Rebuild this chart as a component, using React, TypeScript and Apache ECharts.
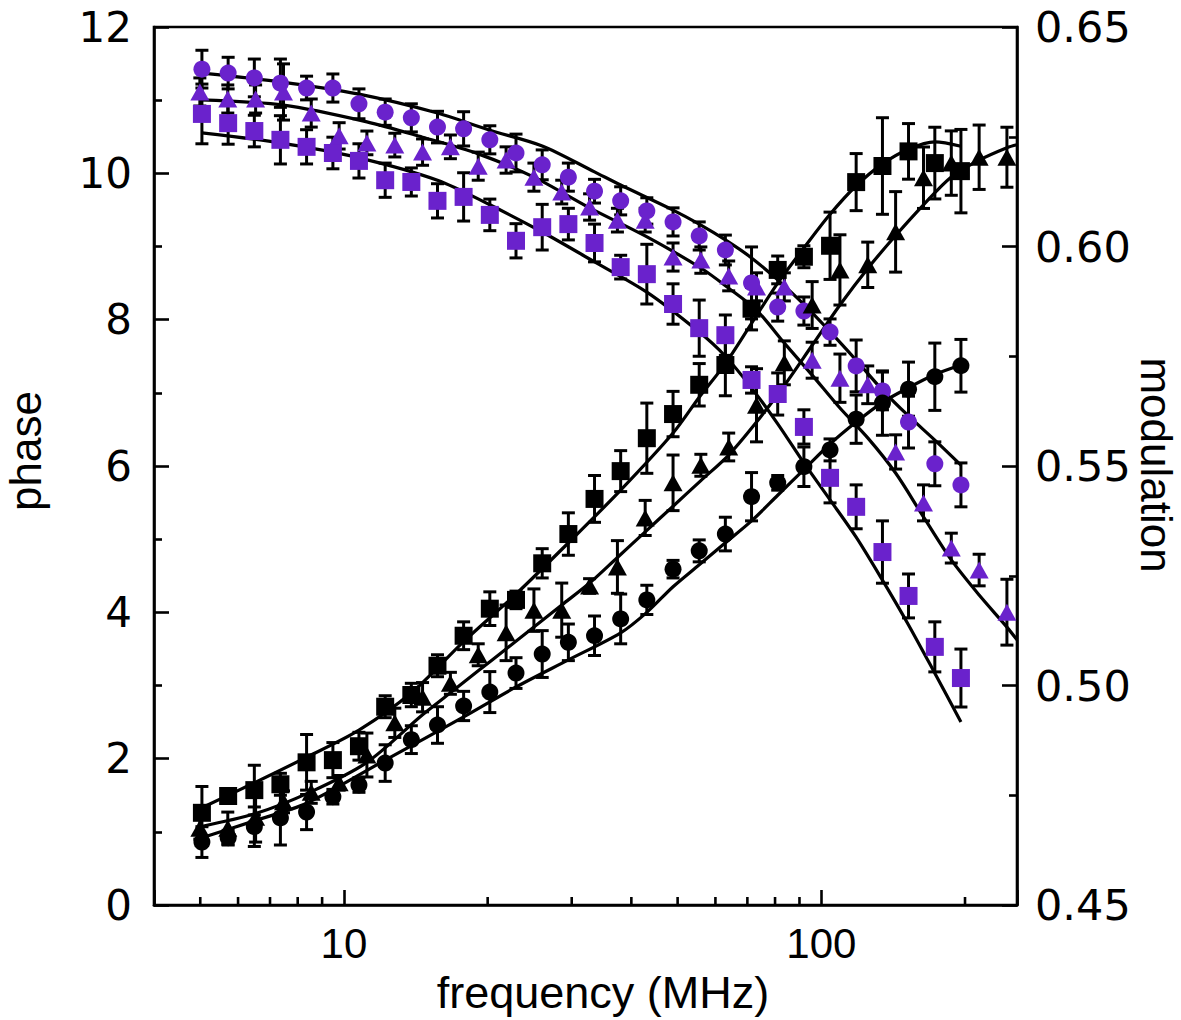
import React, { useEffect, useRef } from "react";
import * as echarts from "echarts";

// frequencies (MHz) of the square / circle data sets
const freqA = [5.04, 5.72, 6.49, 7.36, 8.35, 9.48, 10.75, 12.2, 13.84, 15.7, 17.81, 20.21, 22.93, 26.02, 29.52, 33.49, 37.99, 43.1, 48.91, 55.49, 62.95, 71.42, 81.03, 91.94, 104.3, 118.3, 134.3, 152.3, 172.9, 196.1];
// frequencies (MHz) of the triangle data sets
const freqB = [4.99, 5.71, 6.53, 7.47, 8.54, 9.77, 11.17, 12.78, 14.61, 16.71, 19.11, 21.86, 25.0, 28.59, 32.7, 37.4, 42.76, 48.91, 55.93, 63.97, 73.16, 83.66, 95.68, 109.4, 125.1, 143.1, 163.7, 187.2, 214.1, 244.8];

// phase (black, left axis)
const phaseSquare = [1.26, 1.49, 1.57, 1.65, 1.95, 1.98, 2.17, 2.71, 2.87, 3.27, 3.68, 4.05, 4.17, 4.67, 5.07, 5.55, 5.93, 6.38, 6.71, 7.11, 7.38, 8.15, 8.68, 8.86, 9.01, 9.88, 10.1, 10.3, 10.14, 10.03];
const phaseSquareErr = [0.36, 0.1, 0.34, 0.15, 0.38, 0.24, 0.19, 0.15, 0.16, 0.15, 0.19, 0.23, 0.12, 0.2, 0.29, 0.32, 0.28, 0.48, 0.31, 0.29, 0.42, 0.29, 0.19, 0.15, 0.46, 0.39, 0.66, 0.38, 0.49, 0.57];
const phaseTriangle = [1.05, 1.05, 1.2, 1.41, 1.54, 1.67, 2.05, 2.49, 2.84, 3.03, 3.42, 3.72, 4.03, 4.03, 4.36, 4.62, 5.29, 5.77, 6.01, 6.26, 6.83, 7.41, 8.2, 8.68, 8.75, 9.2, 9.94, 10.14, 10.22, 10.22];
const phaseTriangleErr = [0.15, 0.22, 0.34, 0.15, 0.15, 0.1, 0.3, 0.2, 0.2, 0.15, 0.15, 0.38, 0.29, 0.37, 0.1, 0.36, 0.24, 0.38, 0.15, 0.19, 0.5, 0.3, 0.32, 0.48, 0.31, 0.55, 0.42, 0.44, 0.44, 0.41];
const phaseCircle = [0.86, 0.92, 1.07, 1.19, 1.27, 1.48, 1.64, 1.94, 2.26, 2.46, 2.72, 2.91, 3.17, 3.43, 3.59, 3.68, 3.91, 4.17, 4.59, 4.84, 5.07, 5.58, 5.77, 5.99, 6.22, 6.64, 6.86, 7.05, 7.22, 7.37];
const phaseCircleErr = [0.21, 0.1, 0.27, 0.37, 0.24, 0.1, 0.1, 0.25, 0.19, 0.25, 0.2, 0.28, 0.21, 0.32, 0.25, 0.27, 0.34, 0.2, 0.12, 0.15, 0.23, 0.33, 0.1, 0.27, 0.15, 0.33, 0.44, 0.37, 0.46, 0.36];

// modulation (purple, right axis)
const modCircle = [0.6404, 0.6395, 0.6384, 0.6372, 0.6361, 0.6361, 0.6325, 0.6306, 0.6293, 0.6272, 0.6268, 0.6243, 0.6213, 0.6186, 0.6158, 0.6126, 0.6104, 0.6081, 0.6056, 0.6024, 0.5992, 0.5917, 0.5862, 0.5853, 0.5805, 0.5728, 0.5671, 0.56, 0.5505, 0.5457];
const modCircleErr = [0.0043, 0.0036, 0.0043, 0.0055, 0.0027, 0.0032, 0.0034, 0.003, 0.0032, 0.0036, 0.0039, 0.0032, 0.0043, 0.0034, 0.0032, 0.0027, 0.0032, 0.003, 0.0032, 0.0032, 0.0034, 0.0082, 0.0032, 0.0032, 0.003, 0.0059, 0.0043, 0.0059, 0.005, 0.005];
const modTriangle = [0.6352, 0.6336, 0.6336, 0.6352, 0.6304, 0.6252, 0.6236, 0.6231, 0.6215, 0.6227, 0.6183, 0.6197, 0.6158, 0.6124, 0.609, 0.606, 0.606, 0.5976, 0.5969, 0.5933, 0.5908, 0.5908, 0.5741, 0.57, 0.5685, 0.5532, 0.5416, 0.5313, 0.5263, 0.5167];
const modTriangleErr = [0.0032, 0.0032, 0.0032, 0.0064, 0.0032, 0.003, 0.0027, 0.0027, 0.003, 0.0027, 0.0032, 0.003, 0.0032, 0.0027, 0.003, 0.0027, 0.0027, 0.0032, 0.003, 0.0034, 0.0032, 0.0032, 0.0041, 0.0055, 0.0043, 0.0039, 0.0041, 0.0034, 0.0036, 0.0075];
const modSquare = [0.6302, 0.6281, 0.6263, 0.6243, 0.6227, 0.6213, 0.6195, 0.6151, 0.6147, 0.6104, 0.6113, 0.6072, 0.6013, 0.6044, 0.6051, 0.6008, 0.5953, 0.5937, 0.5869, 0.5814, 0.5798, 0.5696, 0.5664, 0.5589, 0.5473, 0.5407, 0.5304, 0.5204, 0.5088, 0.5017];
const modSquareErr = [0.0068, 0.0048, 0.0036, 0.0055, 0.0039, 0.0036, 0.0039, 0.0039, 0.0032, 0.0039, 0.0055, 0.0036, 0.0039, 0.0052, 0.0036, 0.0043, 0.0027, 0.0068, 0.0046, 0.0064, 0.0046, 0.003, 0.0048, 0.0039, 0.0057, 0.005, 0.0071, 0.005, 0.0057, 0.0066];

// fitted curves
const fitPhaseSquareF = [5.04, 6.49, 8.35, 10.75, 13.84, 17.81, 22.93, 29.52, 37.99, 48.91, 55.49, 62.95, 71.42, 81.03, 91.94, 104.3, 118.3, 134.3, 152.3, 172.9, 196.1];
const fitPhaseSquare = [1.33, 1.67, 2.02, 2.39, 2.9, 3.6, 4.25, 4.95, 5.67, 6.45, 6.94, 7.4, 7.95, 8.5, 8.98, 9.44, 9.83, 10.13, 10.33, 10.43, 10.37];
const fitPhaseTriangleF = [4.99, 6.53, 8.54, 11.17, 14.61, 16.71, 19.11, 21.86, 25.0, 28.59, 32.7, 37.4, 42.76, 48.91, 55.93, 63.97, 73.16, 83.66, 95.68, 109.4, 125.1, 143.1, 163.7, 187.2, 214.1, 244.8, 257];
const fitPhaseTriangle = [1.07, 1.25, 1.55, 1.95, 2.6, 2.9, 3.2, 3.5, 3.8, 4.1, 4.4, 4.75, 5.1, 5.45, 5.8, 6.15, 6.6, 7.1, 7.65, 8.2, 8.7, 9.15, 9.57, 9.95, 10.18, 10.35, 10.39];
const fitPhaseCircleF = [5.04, 6.49, 8.35, 12.2, 17.81, 22.93, 29.52, 37.99, 43.1, 48.91, 55.49, 62.95, 71.42, 81.03, 91.94, 104.3, 118.3, 134.3, 152.3, 172.9, 196.1];
const fitPhaseCircle = [0.92, 1.15, 1.39, 1.98, 2.57, 2.98, 3.35, 3.72, 4.0, 4.35, 4.65, 4.95, 5.25, 5.6, 5.95, 6.3, 6.6, 6.87, 7.07, 7.25, 7.38];
const fitModCircleF = [5.04, 7.36, 10.75, 15.7, 20.21, 26.02, 33.49, 37.99, 48.91, 55.49, 62.95, 71.42, 81.03, 91.94, 104.3, 118.3, 134.3, 152.3, 172.9, 196.1];
const fitModCircle = [0.6395, 0.6375, 0.6347, 0.6304, 0.6265, 0.6229, 0.617, 0.614, 0.6083, 0.6051, 0.6015, 0.5974, 0.5924, 0.5868, 0.5806, 0.5741, 0.5673, 0.5614, 0.5559, 0.5502];
const fitModTriangleF = [4.99, 7.47, 11.17, 14.61, 19.11, 25.0, 32.7, 42.76, 55.93, 63.97, 73.16, 83.66, 95.68, 109.4, 125.1, 143.1, 163.7, 187.2, 214.1, 244.8, 257];
const fitModTriangle = [0.6334, 0.6322, 0.6284, 0.6249, 0.6211, 0.6158, 0.6088, 0.6024, 0.5951, 0.5905, 0.5855, 0.578, 0.5707, 0.5632, 0.5564, 0.5484, 0.5384, 0.5286, 0.5206, 0.5133, 0.5104];
const fitModSquareF = [5.04, 7.36, 10.75, 15.7, 20.21, 26.02, 33.49, 43.1, 55.49, 62.95, 71.42, 81.03, 91.94, 104.3, 118.3, 134.3, 152.3, 172.9, 196.1];
const fitModSquare = [0.6259, 0.6236, 0.6202, 0.6151, 0.6095, 0.6033, 0.5965, 0.5896, 0.5805, 0.575, 0.5678, 0.5596, 0.5507, 0.5423, 0.5338, 0.524, 0.5138, 0.5028, 0.4917];

// axis ticks
const minorTickFreqs = [5, 6, 7, 8, 9, 20, 30, 40, 50, 60, 70, 80, 90, 200];
const xLabelValues = [10, 100];

const PURPLE = "#6a22cc";
const BLACK = "#000000";
const TICK_FONT = "DejaVu Sans";
const TITLE_FONT = "Liberation Sans";

function zip(xs: number[], ys: number[]) {
  return xs.map((x, i) => [x, ys[i]]);
}

function errorBars(freqs: number[], vals: number[], errs: number[], yAxisIndex: number) {
  return {
    type: "custom",
    xAxisIndex: 0,
    yAxisIndex,
    z: 3,
    silent: true,
    data: freqs.map((f, i) => [f, vals[i] - errs[i], vals[i] + errs[i]]),
    encode: { x: 0, y: [1, 2] },
    renderItem: (params: any, api: any) => {
      const f = api.value(0);
      const lo = api.coord([f, api.value(1)]);
      const hi = api.coord([f, api.value(2)]);
      const hw = 6.5;
      const st = { stroke: BLACK, lineWidth: 3 };
      return {
        type: "group",
        children: [
          { type: "line", shape: { x1: lo[0], y1: lo[1], x2: hi[0], y2: hi[1] }, style: st },
          { type: "line", shape: { x1: lo[0] - hw, y1: lo[1], x2: lo[0] + hw, y2: lo[1] }, style: st },
          { type: "line", shape: { x1: hi[0] - hw, y1: hi[1], x2: hi[0] + hw, y2: hi[1] }, style: st },
        ],
      };
    },
  };
}

function markers(freqs: number[], vals: number[], yAxisIndex: number, symbol: string, color: string, size: any) {
  return {
    type: "scatter",
    xAxisIndex: 0,
    yAxisIndex,
    z: 4,
    symbol,
    symbolSize: size,
    itemStyle: { color, opacity: 1 },
    data: zip(freqs, vals),
  };
}

function fitLine(freqs: number[], vals: number[], yAxisIndex: number) {
  return {
    type: "line",
    xAxisIndex: 0,
    yAxisIndex,
    z: 2,
    symbol: "none",
    showSymbol: false,
    smooth: 0.3,
    clip: true,
    lineStyle: { color: BLACK, width: 3.2 },
    data: zip(freqs, vals),
  };
}

export default function App() {
  const ref = useRef<HTMLDivElement>(null);
  useEffect(() => {
    const chart = echarts.init(ref.current!, null, { renderer: "svg" });
    const option: any = {
      animation: false,
      backgroundColor: "#ffffff",
      grid: {
        left: 154,
        right: 164,
        top: 27,
        bottom: 115,
        show: true,
        borderColor: BLACK,
        borderWidth: 2.6,
        backgroundColor: "transparent",
      },
      xAxis: {
        type: "log",
        logBase: 10,
        min: 4,
        max: 257,
        axisLine: { show: true, lineStyle: { color: BLACK, width: 2.6 } },
        axisTick: { show: true, inside: true, length: 15, lineStyle: { color: BLACK, width: 2.6 } },
        splitLine: { show: false },
        minorTick: { show: false },
        axisLabel: {
          margin: 17,
          color: BLACK,
          fontFamily: TITLE_FONT,
          fontSize: 42,
          formatter: (v: number) => {
            const hit = xLabelValues.find((t) => Math.abs(t - v) / t < 1e-6);
            return hit ? String(hit) : "";
          },
        },
      },
      yAxis: [
        {
          type: "value",
          position: "left",
          min: 0,
          max: 12,
          interval: 2,
          axisLine: { show: true, lineStyle: { color: BLACK, width: 2.6 } },
          axisTick: { show: true, inside: true, length: 15, lineStyle: { color: BLACK, width: 2.6 } },
          minorTick: { show: true, splitNumber: 2, length: 8, lineStyle: { color: BLACK, width: 2.6 } },
          splitLine: { show: false },
          axisLabel: { margin: 22, color: BLACK, fontFamily: TICK_FONT, fontSize: 42 },
        },
        {
          type: "value",
          position: "right",
          min: 0.45,
          max: 0.65,
          interval: 0.05,
          axisLine: { show: true, lineStyle: { color: BLACK, width: 2.6 } },
          axisTick: { show: true, inside: true, length: 15, lineStyle: { color: BLACK, width: 2.6 } },
          minorTick: { show: true, splitNumber: 2, length: 8, lineStyle: { color: BLACK, width: 2.6 } },
          splitLine: { show: false },
          axisLabel: {
            margin: 18,
            color: BLACK,
            fontFamily: TICK_FONT,
            fontSize: 43,
            formatter: (v: number) => v.toFixed(2),
          },
        },
      ],
      graphic: [
        {
          type: "text",
          x: 603,
          y: 992,
          style: {
            text: "frequency (MHz)",
            fontFamily: TITLE_FONT,
            fontSize: 45,
            fill: BLACK,
            align: "center",
            verticalAlign: "middle",
            textAlign: "center",
            textVerticalAlign: "middle",
          },
        },
        {
          type: "text",
          x: 25,
          y: 451,
          rotation: Math.PI / 2,
          style: {
            text: "phase",
            fontFamily: TITLE_FONT,
            fontSize: 44,
            fill: BLACK,
            align: "center",
            verticalAlign: "middle",
            textAlign: "center",
            textVerticalAlign: "middle",
          },
        },
        {
          type: "text",
          x: 1156,
          y: 465,
          rotation: -Math.PI / 2,
          style: {
            text: "modulation",
            fontFamily: TITLE_FONT,
            fontSize: 44,
            fill: BLACK,
            align: "center",
            verticalAlign: "middle",
            textAlign: "center",
            textVerticalAlign: "middle",
          },
        },
      ],
      series: [
        // minor ticks of the log axis
        {
          type: "custom",
          xAxisIndex: 0,
          yAxisIndex: 0,
          z: 5,
          silent: true,
          data: minorTickFreqs.map((f) => [f, 0]),
          renderItem: (params: any, api: any) => {
            const p = api.coord([api.value(0), 0]);
            return {
              type: "line",
              shape: { x1: p[0], y1: p[1], x2: p[0], y2: p[1] - 8 },
              style: { stroke: BLACK, lineWidth: 2.6 },
            };
          },
        },
        fitLine(fitPhaseSquareF, fitPhaseSquare, 0),
        fitLine(fitPhaseTriangleF, fitPhaseTriangle, 0),
        fitLine(fitPhaseCircleF, fitPhaseCircle, 0),
        fitLine(fitModCircleF, fitModCircle, 1),
        fitLine(fitModTriangleF, fitModTriangle, 1),
        fitLine(fitModSquareF, fitModSquare, 1),
        errorBars(freqA, phaseSquare, phaseSquareErr, 0),
        errorBars(freqB, phaseTriangle, phaseTriangleErr, 0),
        errorBars(freqA, phaseCircle, phaseCircleErr, 0),
        errorBars(freqA, modCircle, modCircleErr, 1),
        errorBars(freqB, modTriangle, modTriangleErr, 1),
        errorBars(freqA, modSquare, modSquareErr, 1),
        markers(freqA, modSquare, 1, "rect", PURPLE, 18),
        markers(freqB, modTriangle, 1, "triangle", PURPLE, [19, 17]),
        markers(freqA, modCircle, 1, "circle", PURPLE, 17),
        markers(freqA, phaseSquare, 0, "rect", BLACK, 18),
        markers(freqB, phaseTriangle, 0, "triangle", BLACK, [19, 17]),
        markers(freqA, phaseCircle, 0, "circle", BLACK, 17),
      ],
    };
    chart.setOption(option);
    return () => chart.dispose();
  }, []);
  return (
    <div
      ref={ref}
      style={{ position: "fixed", left: 0, top: 0, width: 1181, height: 1020, background: "#ffffff" }}
    />
  );
}
